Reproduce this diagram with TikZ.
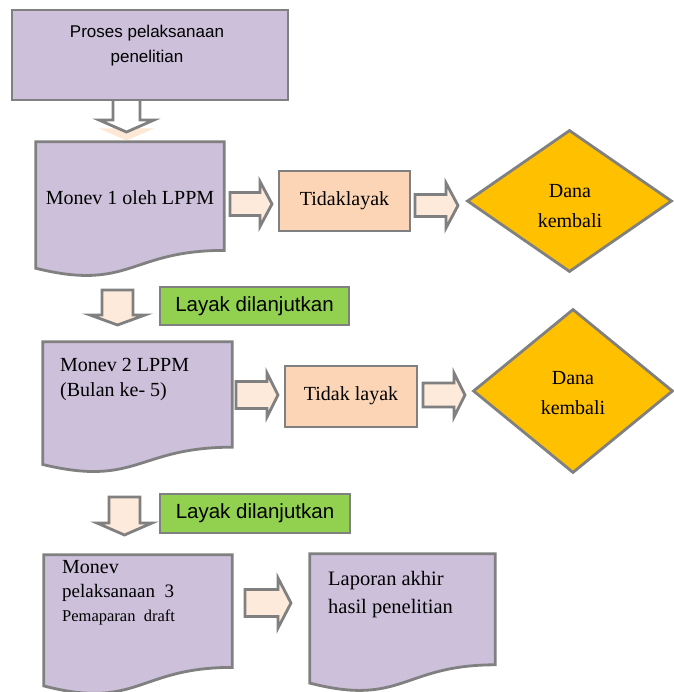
\documentclass[tikz,border=0pt]{standalone}
\usepackage{fontspec}
\setmainfont{Liberation Serif}
\setsansfont{Liberation Sans}
\usetikzlibrary{shapes.geometric, calc}

\definecolor{lavender}{HTML}{CCC0DA}
\definecolor{linegray}{HTML}{808080}
\definecolor{peach}{HTML}{FBD5B5}
\definecolor{arrowfill}{HTML}{FDEADA}
\definecolor{gold}{HTML}{FFC000}
\definecolor{okgreen}{HTML}{92D050}

% wavy "document" outline round an empty frame node
\newcommand{\docshape}[1]{%
  \draw[docline] (#1.north west) -- (#1.north east)
    -- ($(#1.north east)!0.802!(#1.south east)$)
    .. controls ($(#1.north)!0.802!(#1.south)$) and ($(#1.north)!1.107!(#1.south)$)
    .. ($(#1.north west)!0.934!(#1.south west)$) -- cycle;}

% block arrow: centre, angle, length, shaft width, head width, head length
\newcommand{\blockarrow}[7][]{%
  \draw[arrowline, #1, shift={#2}, rotate=#3]
    ({-#4/2},{-#5/2}) -- ({#4/2-#7},{-#5/2}) -- ({#4/2-#7},{-#6/2}) -- ({#4/2},0)
    -- ({#4/2-#7},{#6/2}) -- ({#4/2-#7},{#5/2}) -- ({-#4/2},{#5/2}) -- cycle;}

\tikzset{
  docline/.style={draw=linegray, line width=2.8pt, fill=lavender},
  arrowline/.style={draw=linegray, line width=2.8pt, fill=arrowfill, line join=miter},
  docframe/.style={rectangle, inner sep=0pt},
  doctext/.style={inner sep=0pt, align=left, font=\fontsize{20}{25}\selectfont},
  procbox/.style={rectangle, draw=linegray, line width=2.8pt, fill=lavender},
  nobox/.style={rectangle, draw=linegray, line width=2.8pt, fill=peach,
    inner sep=0pt, font=\fontsize{20}{24}\selectfont},
  okbox/.style={rectangle, draw=linegray, line width=2.4pt, fill=okgreen,
    minimum width=189pt, minimum height=38pt, inner sep=0pt,
    font=\sffamily\fontsize{20.5}{24}\selectfont},
  backdiamond/.style={diamond, draw=linegray, line width=2.8pt, fill=gold,
    aspect=1.3, inner sep=0pt},
  dtext/.style={inner sep=0pt, align=center, font=\fontsize{20}{29.5}\selectfont},
}

\begin{document}
\begin{tikzpicture}[x=1pt, y=-1pt]
  \useasboundingbox (0,0) rectangle (673,692);

  % start
  \blockarrow[draw=none, fill=peach, opacity=0.55]{(126.5,122)}{-90}{37}{27}{55}{12}
  \blockarrow[fill=white]{(126.5,113.5)}{-90}{37}{27}{55}{12}
  \node[procbox, minimum width=276pt, minimum height=90pt] (p0) at (150,55) {};
  \node[inner sep=0pt, align=center, font=\sffamily\fontsize{17}{25}\selectfont]
    (p0t) at (147,46) {Proses pelaksanaan\\penelitian};

  % monev 1
  \node[docframe, minimum width=188pt, minimum height=135pt] (m1) at (130,209.5) {};
  \docshape{m1}
  \node[doctext] (m1t) at (130,198) {Monev 1 oleh LPPM};
  \blockarrow{(251,204)}{0}{42}{23}{45}{12}
  \node[nobox, minimum width=131pt, minimum height=60pt] (t1) at (344.5,201) {\raisebox{5pt}{Tidaklayak}};
  \blockarrow{(436.5,205.5)}{0}{43}{22}{45}{12}
  \node[backdiamond, minimum width=205pt, minimum height=142pt] (k1) at (569.5,201) {};
  \node[dtext] (k1t) at (570,206) {Dana\\kembali};

  % monev 2
  \blockarrow{(117.5,307.5)}{-90}{35}{31}{55}{10}
  \node[okbox] (g1) at (254.5,306) {\raisebox{-5pt}{Layak dilanjutkan}};
  \node[docframe, minimum width=189pt, minimum height=131pt] (m2) at (137.5,407.5) {};
  \docshape{m2}
  \node[doctext, anchor=north west] (m2t) at (60,358) {Monev 2 LPPM\\(Bulan ke- 5)};
  \blockarrow{(257,395)}{0}{42}{27}{44}{11}
  \node[nobox, minimum width=132pt, minimum height=61pt] (t2) at (351,396.5) {\raisebox{5pt}{Tidak layak}};
  \blockarrow{(444,395)}{0}{42}{24}{44}{11}
  \node[backdiamond, minimum width=200pt, minimum height=164pt] (k2) at (573,391) {};
  \node[dtext] (k2t) at (573,393) {Dana\\kembali};

  % monev 3
  \blockarrow{(124.5,516)}{-90}{38}{31}{55}{12}
  \node[okbox, minimum width=190pt, minimum height=39pt] (g2) at (255,513.5) {\raisebox{-4.5pt}{Layak dilanjutkan}};
  \node[docframe, minimum width=188pt, minimum height=140pt] (m3) at (138,625) {};
  \docshape{m3}
  \node[doctext, anchor=north west] (m3t) at (62,560)
    {Monev\\[-1pt]{\fontsize{19}{24}\selectfont pelaksanaan~~3}\\[-1pt]{\fontsize{16.5}{23}\selectfont Pemaparan~~draft}};
  \blockarrow{(268,603)}{0}{46}{27}{50}{13}
  \node[docframe, minimum width=185pt, minimum height=138pt] (m4) at (402.5,623) {};
  \docshape{m4}
  \node[doctext, anchor=north west, font=\fontsize{20.5}{28}\selectfont] (m4t) at (328,571) {Laporan akhir\\hasil penelitian};
\end{tikzpicture}
\end{document}
